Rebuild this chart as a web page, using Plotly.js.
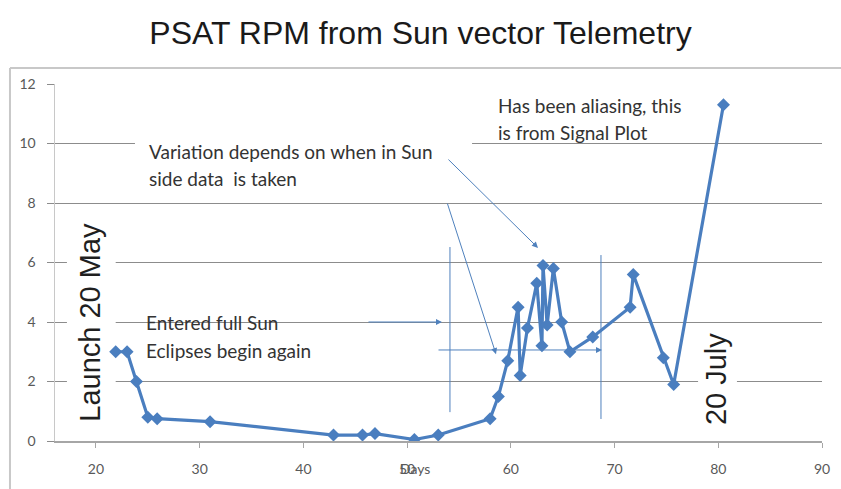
<!DOCTYPE html>
<html>
<head>
<meta charset="utf-8">
<script src="https://cdn.plot.ly/plotly-3.0.1.min.js"></script>
<style>html,body{margin:0;padding:0;background:#fff;}#chart{width:841px;height:489px;}</style>
</head>
<body>
<div id="chart"></div>
<script>
// ---- data ----
var days = [21.9, 23.0, 23.9, 25.0, 25.9, 31.0, 42.9, 45.7, 46.9, 50.7, 53.0, 58.0, 58.8, 59.7, 60.7, 60.9, 61.6, 62.5, 63.0, 63.1, 63.5, 64.1, 64.9, 65.7, 67.9, 71.5, 71.8, 74.7, 75.7, 80.5];
var rpm  = [3.0, 3.0, 2.0, 0.8, 0.75, 0.65, 0.2, 0.2, 0.25, 0.05, 0.2, 0.75, 1.5, 2.7, 4.5, 2.2, 3.8, 5.3, 3.2, 5.9, 3.9, 5.8, 4.0, 3.0, 3.5, 4.5, 5.6, 2.8, 1.9, 11.3];
var xTicks = [20, 30, 40, 50, 60, 70, 80, 90];
var yTicks = [0, 2, 4, 6, 8, 10, 12];
var titleText = "PSAT RPM from Sun vector Telemetry";
var xLabel = "Days";

var blue = "#4a7ebf";
var arrowCol = "#4f81bd";
var txtFont = {family: "Lato, 'Open Sans', sans-serif", size: 19, color: "#333333"};
var bigFont = {family: "'Liberation Sans', Arial, sans-serif", size: 29, color: "#1f1f1f"};

var trace = {
  x: days, y: rpm, type: "scatter", mode: "lines+markers",
  line: {color: blue, width: 3.2},
  marker: {symbol: "diamond", size: 10, color: blue},
  hoverinfo: "x+y", showlegend: false
};

function txt(text, x, y, extra) {
  var a = {text: text, x: x, y: y, xref: "x", yref: "y", showarrow: false,
           xanchor: "left", yanchor: "middle", font: txtFont};
  for (var k in extra) a[k] = extra[k];
  return a;
}
function arrow(x0, y0, x1, y1) {
  return {text: "", x: x1, y: y1, ax: x0, ay: y0, xref: "x", yref: "y", axref: "x", ayref: "y",
          showarrow: true, arrowhead: 2, arrowsize: 1.2, arrowwidth: 1, arrowcolor: arrowCol, standoff: 0, startstandoff: 0};
}

var annotations = [
  txt("Variation depends on when in Sun", 24.9, 9.72),
  txt("side data&nbsp; is taken", 24.9, 8.82),
  txt("Has been aliasing, this", 58.6, 11.29),
  txt("is from Signal Plot", 58.6, 10.38),
  txt("Entered full Sun", 24.6, 4.0),
  txt("Eclipses begin again", 24.6, 3.03),
  {text: "Launch 20 May", x: 19.4, y: 4.0, xref: "x", yref: "y", showarrow: false, textangle: -90,
   xanchor: "center", yanchor: "middle", font: bigFont},
  {text: "20 July", x: 79.78, y: 2.08, xref: "x", yref: "y", showarrow: false, textangle: -90,
   xanchor: "center", yanchor: "middle", font: bigFont},
  {text: xLabel, x: 50.8, y: -0.078, xref: "x", yref: "paper", showarrow: false,
   xanchor: "center", yanchor: "middle", font: {family: "Lato, sans-serif", size: 14, color: "#595959"}},
  arrow(53.84, 9.51, 62.62, 6.49),
  arrow(53.84, 8.03, 58.57, 2.92),
  arrow(46.13, 4.0, 53.36, 4.0),
  arrow(52.88, 3.06, 68.79, 3.06)
];

var shapes = [
  // white text-box backgrounds that interrupt the gridlines
  {type: "rect", xref: "x", yref: "y", x0: 23.76, x1: 56.26, y0: 8.3, y1: 10.2, fillcolor: "#fff", line: {width: 0}, layer: "between"},
  {type: "rect", xref: "x", yref: "y", x0: 17.2, x1: 21.9, y0: 0.45, y1: 7.6, fillcolor: "#fff", line: {width: 0}, layer: "between"},
  {type: "rect", xref: "x", yref: "y", x0: 78.05, x1: 81.8, y0: 0.45, y1: 3.73, fillcolor: "#fff", line: {width: 0}, layer: "between"},
  // thin vertical marker lines
  {type: "line", xref: "x", yref: "y", x0: 54.13, x1: 54.13, y0: 6.52, y1: 0.97, line: {color: arrowCol, width: 1}},
  {type: "line", xref: "x", yref: "y", x0: 68.69, x1: 68.69, y0: 6.25, y1: 0.74, line: {color: arrowCol, width: 1}},
  // chart-area border (top and left)
  {type: "line", xref: "paper", yref: "paper", x0: -0.0587, x1: 1.03, y0: 1.0448, y1: 1.0448, line: {color: "#c8c8c8", width: 2}},
  {type: "line", xref: "paper", yref: "paper", x0: -0.0587, x1: -0.0587, y0: 1.0448, y1: -0.14, line: {color: "#c8c8c8", width: 2}}
];

var layout = {
  width: 841, height: 489,
  margin: {l: 55, r: 19, t: 84, b: 48, pad: 0},
  paper_bgcolor: "#fff", plot_bgcolor: "#fff",
  title: {text: titleText, x: 0.5, xref: "container", y: 0.933, yref: "container", yanchor: "middle",
          font: {family: "'Liberation Sans', Arial, sans-serif", size: 32, color: "#1a1a1a"}},
  xaxis: {range: [16.05, 90], tickvals: xTicks, ticktext: xTicks.map(String),
          showgrid: false, zeroline: false, showline: true, linecolor: "#a6a6a6", linewidth: 1.5,
          ticks: "outside", ticklen: 5, tickcolor: "#a6a6a6", ticklabelstandoff: 10,
          tickfont: {family: "Lato, sans-serif", size: 14, color: "#595959"}},
  yaxis: {range: [0, 12], tickvals: yTicks, ticktext: yTicks.map(String),
          showgrid: true, gridcolor: "#8c8c8c", gridwidth: 1, zeroline: false,
          showline: true, linecolor: "#c8c8c8", linewidth: 1.5,
          ticks: "outside", ticklen: 7, tickcolor: "#8c8c8c", ticklabelstandoff: 8,
          tickfont: {family: "Lato, sans-serif", size: 14, color: "#595959"}},
  annotations: annotations,
  shapes: shapes
};

Plotly.newPlot("chart", [trace], layout, {displayModeBar: false, staticPlot: true});
</script>
</body>
</html>
